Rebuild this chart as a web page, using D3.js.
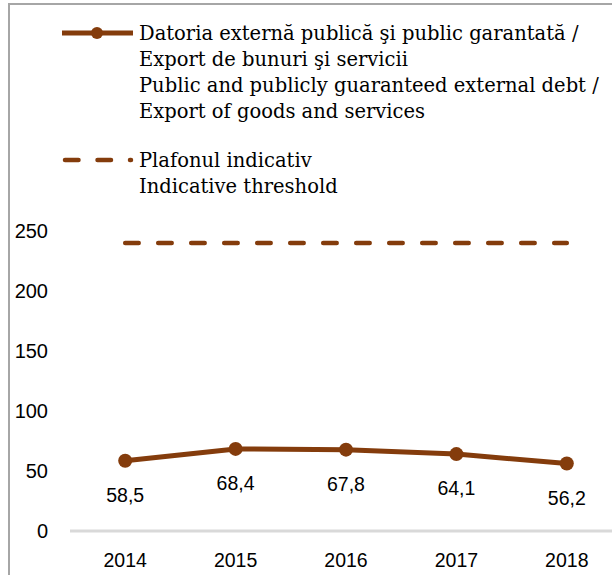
<!DOCTYPE html>
<html><head><meta charset="utf-8">
<script src="https://cdn.jsdelivr.net/npm/d3@7"></script>
<style>html,body{margin:0;padding:0;background:#fff;overflow:hidden}</style>
</head><body>
<script>
const years = ["2014","2015","2016","2017","2018"];
const debtRatio = [58.5, 68.4, 67.8, 64.1, 56.2];
const threshold = [240, 240, 240, 240, 240];
const yTicks = [0, 50, 100, 150, 200, 250];
const legendDebt = ["Datoria externă publică şi public garantată /","Export de bunuri şi servicii","Public and publicly guaranteed external debt /","Export of goods and services"];
const legendThreshold = ["Plafonul indicativ","Indicative threshold"];

const W = 612, H = 575;
const brown = "#843C0C";
const svg = d3.select("body").append("svg").attr("width", W).attr("height", H);

// frame
svg.append("rect").attr("x", 9).attr("y", 4).attr("width", 800).attr("height", 800)
  .attr("fill", "none").attr("stroke", "#a6a6a6").attr("stroke-width", 2);

const x = d3.scaleBand().domain(years).range([70, 622]).padding(0);
const xc = d => x(d) + x.bandwidth() / 2;
const y = d3.scaleLinear().domain([0, 250]).range([531, 231]);

// y tick labels
svg.append("g").selectAll("text").data(yTicks).join("text")
  .attr("x", 48).attr("y", d => y(d) + 7)
  .attr("text-anchor", "end")
  .attr("font-family", "Liberation Sans, Arial, sans-serif").attr("font-size", 20)
  .attr("fill", "#000").text(d => d);

// baseline
svg.append("line").attr("x1", 70).attr("x2", 612).attr("y1", y(0)).attr("y2", y(0))
  .attr("stroke", "#d9d9d9").attr("stroke-width", 3);

// x labels
svg.append("g").selectAll("text").data(years).join("text")
  .attr("x", d => xc(d)).attr("y", 567)
  .attr("text-anchor", "middle")
  .attr("font-family", "Liberation Sans, Arial, sans-serif").attr("font-size", 19.5)
  .attr("fill", "#000").text(d => d);

// threshold dashed line
const thrData = years.map((d, i) => ({ year: d, v: threshold[i] }));
svg.append("path").datum(thrData)
  .attr("d", d3.line().x(d => xc(d.year)).y(d => y(d.v)))
  .attr("fill", "none").attr("stroke", brown).attr("stroke-width", 4.5)
  .attr("stroke-linecap", "round").attr("stroke-dasharray", "13.5,19.5");

// debt line
const debtData = years.map((d, i) => ({ year: d, v: debtRatio[i] }));
svg.append("path").datum(debtData)
  .attr("d", d3.line().x(d => xc(d.year)).y(d => y(d.v)))
  .attr("fill", "none").attr("stroke", brown).attr("stroke-width", 5);
svg.append("g").selectAll("circle").data(debtData).join("circle")
  .attr("cx", d => xc(d.year)).attr("cy", d => y(d.v)).attr("r", 7).attr("fill", brown);
svg.append("g").selectAll("text").data(debtData).join("text")
  .attr("x", d => xc(d.year)).attr("y", d => y(d.v) + 41)
  .attr("text-anchor", "middle")
  .attr("font-family", "Liberation Sans, Arial, sans-serif").attr("font-size", 19.5)
  .attr("fill", "#000").text(d => d3.format(".1f")(d.v).replace(".", ","));

// legend
const lg = svg.append("g");
lg.append("line").attr("x1", 62).attr("x2", 133).attr("y1", 33).attr("y2", 33)
  .attr("stroke", brown).attr("stroke-width", 5);
lg.append("circle").attr("cx", 97).attr("cy", 33).attr("r", 6).attr("fill", brown);
lg.append("line").attr("x1", 65).attr("x2", 131).attr("y1", 160).attr("y2", 160)
  .attr("stroke", brown).attr("stroke-width", 4.5).attr("stroke-linecap", "round")
  .attr("stroke-dasharray", "13.5,19");
const lfont = "DejaVu Serif, serif";
lg.append("g").selectAll("text").data(legendDebt).join("text")
  .attr("x", 139).attr("y", (d, i) => 40 + i * 26)
  .attr("font-family", lfont).attr("font-size", 19.5).attr("fill", "#000").text(d => d);
lg.append("g").selectAll("text").data(legendThreshold).join("text")
  .attr("x", 139).attr("y", (d, i) => 167 + i * 26)
  .attr("font-family", lfont).attr("font-size", 19.5).attr("fill", "#000").text(d => d);
</script>
</body></html>
